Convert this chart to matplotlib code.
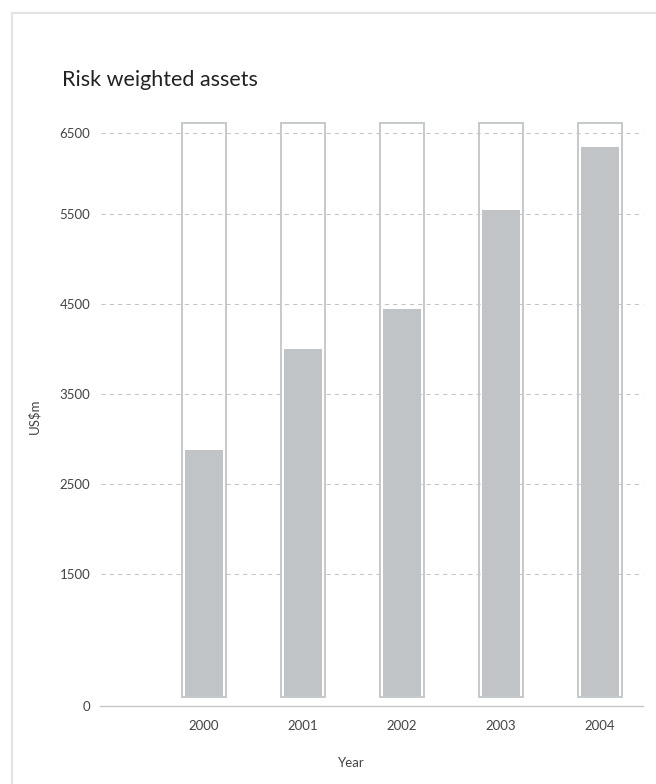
import numpy as np
import matplotlib
matplotlib.use("Agg")
import matplotlib.pyplot as plt
from matplotlib.lines import Line2D

# data
years = ["2000", "2001", "2002", "2003", "2004"]
rwa = [2880, 4000, 4440, 5550, 6320]
yticks = [0, 1500, 2500, 3500, 4500, 5500, 6500]

# the printed axis is not quite even: pixel height above the baseline for each tick
tick_px = [0, 131.4, 221.4, 312.0, 402.0, 491.7, 573.0, 654.3]
tick_val = [0, 1500, 2500, 3500, 4500, 5500, 6500, 7500]

base = 105        # bars float a little above the axis line
frame_top = 6620  # top of the empty outline boxes

bar_col = "#c1c4c7"
frame_col = "#c6c9cc"
grid_col = "#c4c4c4"
text_col = "#444444"

W, H = 656, 784
fig = plt.figure(figsize=(W / 100, H / 100), dpi=100)

ax_left, ax_right = 100, 643
ax_bottom = 705.7   # pixel row of axis line
ax_top = 115
ax = fig.add_axes([ax_left / W, 1 - ax_bottom / H,
                   (ax_right - ax_left) / W, (ax_bottom - ax_top) / H])


def fwd(v):
    v = np.asarray(v, dtype=float)
    out = np.interp(v, tick_val, tick_px)
    out = np.where(v < 0, v * tick_px[1] / tick_val[1], out)
    slope = (tick_px[-1] - tick_px[-2]) / (tick_val[-1] - tick_val[-2])
    out = np.where(v > tick_val[-1], tick_px[-1] + (v - tick_val[-1]) * slope, out)
    return out


def inv(p):
    p = np.asarray(p, dtype=float)
    out = np.interp(p, tick_px, tick_val)
    out = np.where(p < 0, p * tick_val[1] / tick_px[1], out)
    slope = (tick_val[-1] - tick_val[-2]) / (tick_px[-1] - tick_px[-2])
    out = np.where(p > tick_px[-1], tick_val[-1] + (p - tick_px[-1]) * slope, out)
    return out


ax.set_yscale("function", functions=(fwd, inv))
ax.set_ylim(0, float(inv(ax_bottom - ax_top)))

x = np.arange(len(years))
ax.set_xlim(-1.05, 4.434)

# grid lines
for t in yticks[1:]:
    ax.plot([-1.035, 4.434], [t, t], color=grid_col, lw=0.75,
            linestyle=(0, (4, 4)), zorder=1, clip_on=False)

ax.bar(x, [v - base for v in rwa], bottom=base, width=0.384,
       color=bar_col, zorder=2)
ax.bar(x, frame_top - base, bottom=base, width=0.45, fill=False,
       edgecolor=frame_col, linewidth=1.4, zorder=3)

for s in ["top", "right", "left"]:
    ax.spines[s].set_visible(False)
ax.spines["bottom"].set_color("#c6c6c6")
ax.spines["bottom"].set_linewidth(1.0)

ax.set_yticks(yticks)
ax.set_yticklabels([str(t) for t in yticks])
ax.set_xticks(x)
ax.set_xticklabels(years)
ax.tick_params(axis="both", length=0, labelsize=9.5, labelcolor=text_col)
ax.tick_params(axis="y", pad=7)
ax.tick_params(axis="x", pad=10)
for lab in ax.get_xticklabels() + ax.get_yticklabels():
    lab.set_family("Lato")

fig.text(62 / W, 1 - 86 / H, "Risk weighted assets", fontsize=15.5,
         family="Lato", color="#222222", va="baseline", ha="left")
fig.text(351 / W, 1 - 763 / H, "Year", fontsize=9.5, family="Lato",
         color=text_col, ha="center", va="center")
fig.text(34 / W, 1 - 416 / H, "US$m", fontsize=9.5, family="Lato",
         color=text_col, ha="center", va="center", rotation=90)

# light panel border (top and left edges only visible)
fig.add_artist(Line2D([12 / W, 1.0], [1 - 13 / H, 1 - 13 / H],
                      transform=fig.transFigure, color="#e3e3e3", lw=1.5))
fig.add_artist(Line2D([12 / W, 12 / W], [0, 1 - 13 / H],
                      transform=fig.transFigure, color="#e3e3e3", lw=1.5))

fig.savefig("out.png", dpi=100)
